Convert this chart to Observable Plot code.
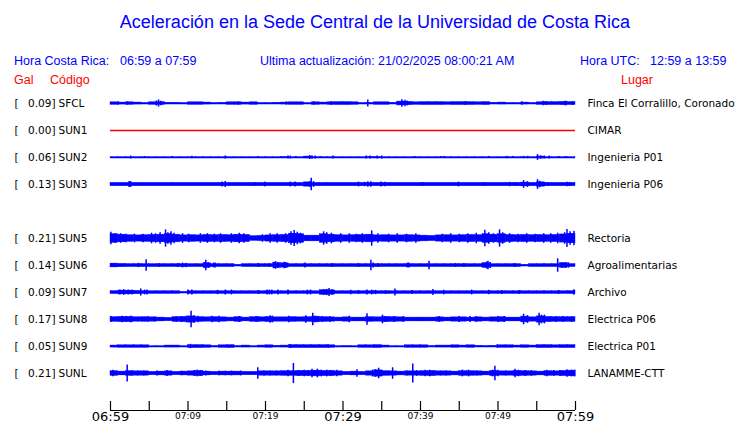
<!DOCTYPE html>
<html><head><meta charset="utf-8">
<script src="https://cdn.jsdelivr.net/npm/d3@7"></script>
<script src="https://cdn.jsdelivr.net/npm/@observablehq/plot@0.6"></script>
<style>
body{margin:0;background:#fff;}
#wrap{position:relative;width:740px;height:423px;overflow:hidden;background:#fff;}
#head{position:relative;height:88px;font-family:"Liberation Sans",Arial,sans-serif;}
#head div{position:absolute;white-space:pre;line-height:1;}
.t{left:0;width:750px;text-align:center;top:13px;font-size:18px;color:#0000ff;}
.h{font-size:12.5px;color:#0000ff;top:55px;}
.r{font-size:12.5px;color:#ff0000;top:74px;}
#chart svg{display:block;}
</style></head>
<body><div id="wrap"><div id="head"></div><div id="chart"></div></div>
<script>
// ---------- text ----------
const title = "Aceleración en la Sede Central de la Universidad de Costa Rica";
const localLabel = "Hora Costa Rica:", localRange = "06:59 a 07:59";
const updatedLabel = "Ultima actualización:", updated = "21/02/2025 08:00:21 AM";
const utcLabel = "Hora UTC:", utcRange = "12:59 a 13:59";
const colHeads = ["Gal", "Código", "Lugar"];

// ---------- stations ----------
const slotCodes = ["SFCL","SUN1","SUN2","SUN3","SUN4","SUN5","SUN6","SUN7","SUN8","SUN9","SUNL"];
const codes = ["SFCL","SUN1","SUN2","SUN3","SUN5","SUN6","SUN7","SUN8","SUN9","SUNL"];
const peakGal = [0.09,0.00,0.06,0.13,0.21,0.14,0.09,0.17,0.05,0.21];
const places = ["Finca El Corralillo, Coronado","CIMAR","Ingenieria P01","Ingenieria P06","Rectoria","Agroalimentarias","Archivo","Electrica P06","Electrica P01","LANAMME-CTT"];

// ---------- time axis (minutes after 06:59) ----------
const tickMinutes = [0,5,10,15,20,25,30,35,40,45,50,55,60];
const labelMinutes = [0,10,20,30,40,50,60];
const labelTexts = ["06:59","07:09","07:19","07:29","07:39","07:49","07:59"];
const labelMajor = [true,false,false,true,false,false,true];

// ---------- per-minute amplitude envelopes (Gal) ----------
const envSFCL = [0.025,0.02,0.025,0.02,0.01,0.025,0.03,0.015,0.015,0.01,
 0.025,0.025,0.02,0.01,0.015,0.025,0.025,0.02,0.025,0.01,
 0.01,0.015,0.02,0.025,0.025,0.01,0.025,0.02,0.025,0.03,
 0.03,0.025,0.01,0.015,0.025,0.025,0.015,0.04,0.035,0.025,
 0.03,0.03,0.03,0.025,0.03,0.03,0.03,0.025,0.03,0.015,
 0.02,0.01,0.01,0.02,0.01,0.025,0.03,0.03,0.035,0.03];
const envSUN1 = [];
const envSUN2 = [0.005,0.005,0.005,0.005,0.005,0.005,0.005,0.005,0.005,0.005,
 0.005,0.005,0.005,0.005,0.005,0.005,0.005,0.005,0.005,0.005,
 0.005,0.005,0.012,0.005,0.005,0.02,0.005,0.005,0.005,0.005,
 0.005,0.005,0.005,0.012,0.012,0.005,0.005,0.005,0.005,0.005,
 0.005,0.005,0.005,0.005,0.005,0.005,0.005,0.005,0.005,0.005,
 0.005,0.005,0.005,0.005,0.005,0.02,0.005,0.005,0.005,0.005];
const envSUN3 = [0.035,0.035,0.035,0.035,0.035,0.035,0.035,0.035,0.035,0.035,
 0.035,0.035,0.035,0.035,0.035,0.035,0.035,0.035,0.035,0.035,
 0.035,0.035,0.035,0.035,0.035,0.045,0.035,0.035,0.035,0.035,
 0.035,0.035,0.035,0.035,0.035,0.035,0.035,0.035,0.035,0.035,
 0.035,0.035,0.035,0.035,0.035,0.035,0.035,0.035,0.035,0.035,
 0.035,0.035,0.035,0.04,0.035,0.045,0.035,0.035,0.035,0.035];
const envSUN5 = [0.09,0.08,0.07,0.065,0.07,0.075,0.08,0.095,0.08,0.065,
 0.07,0.065,0.075,0.07,0.075,0.07,0.08,0.075,0.05,0.055,
 0.065,0.07,0.075,0.1,0.09,0.06,0.06,0.09,0.08,0.07,
 0.065,0.07,0.075,0.08,0.065,0.07,0.065,0.065,0.07,0.065,
 0.06,0.055,0.065,0.07,0.065,0.07,0.075,0.07,0.09,0.08,
 0.09,0.075,0.07,0.075,0.07,0.075,0.07,0.075,0.085,0.1];
const envSUN6 = [0.04,0.035,0.03,0.03,0.03,0.03,0.03,0.03,0.03,0.03,
 0.03,0.03,0.045,0.03,0.03,0.03,0.015,0.03,0.03,0.03,
 0.03,0.05,0.045,0.03,0.03,0.03,0.03,0.03,0.03,0.03,
 0.03,0.03,0.03,0.03,0.03,0.03,0.03,0.03,0.03,0.03,
 0.03,0.03,0.03,0.03,0.03,0.03,0.03,0.03,0.05,0.03,
 0.03,0.03,0.03,0.015,0.03,0.03,0.03,0.03,0.05,0.03];
const envSUN7 = [0.03,0.04,0.04,0.035,0.027,0.027,0.027,0.027,0.027,0.012,
 0.027,0.027,0.027,0.027,0.027,0.027,0.027,0.027,0.027,0.027,
 0.027,0.027,0.027,0.027,0.027,0.027,0.027,0.05,0.045,0.027,
 0.027,0.027,0.027,0.027,0.027,0.027,0.027,0.027,0.027,0.027,
 0.027,0.027,0.027,0.027,0.027,0.027,0.027,0.027,0.027,0.027,
 0.027,0.027,0.027,0.027,0.027,0.027,0.027,0.027,0.027,0.03];
const envSUN8 = [0.05,0.055,0.055,0.045,0.05,0.045,0.04,0.035,0.05,0.055,
 0.065,0.05,0.045,0.05,0.045,0.04,0.05,0.04,0.05,0.045,
 0.055,0.045,0.045,0.05,0.045,0.05,0.06,0.05,0.045,0.04,
 0.045,0.04,0.04,0.05,0.045,0.055,0.05,0.045,0.04,0.04,
 0.04,0.04,0.045,0.04,0.045,0.045,0.04,0.045,0.04,0.045,
 0.05,0.04,0.04,0.06,0.045,0.065,0.055,0.05,0.05,0.05];
const envSUN9 = [0.02,0.025,0.025,0.025,0.025,0.005,0.005,0.02,0.02,0.005,
 0.03,0.03,0.025,0.01,0.025,0.03,0.01,0.02,0.005,0.02,
 0.025,0.015,0.02,0.03,0.03,0.03,0.03,0.03,0.025,0.005,
 0.01,0.005,0.025,0.025,0.03,0.02,0.005,0.005,0.025,0.025,
 0.025,0.01,0.02,0.02,0.025,0.02,0.025,0.015,0.01,0.015,
 0.025,0.025,0.02,0.025,0.02,0.03,0.03,0.025,0.03,0.03];
const envSUNL = [0.05,0.04,0.05,0.045,0.045,0.035,0.04,0.045,0.035,0.04,
 0.045,0.055,0.04,0.035,0.04,0.04,0.04,0.035,0.035,0.045,
 0.045,0.045,0.05,0.05,0.055,0.055,0.06,0.055,0.055,0.045,
 0.035,0.04,0.035,0.045,0.065,0.05,0.045,0.04,0.045,0.045,
 0.05,0.055,0.045,0.045,0.04,0.05,0.05,0.045,0.04,0.055,
 0.045,0.045,0.055,0.05,0.045,0.04,0.05,0.045,0.055,0.06];

// ---------- individual peaks [minute, Gal] ----------
const spkSFCL = [[1.0,0.035],[2.2,0.035],[5.9,0.05],[6.2,0.075],[6.5,0.045],[16.5,0.035],[22.7,0.035],[26.2,0.035],[28.5,0.04],[33.2,0.075],[37.6,0.08],[38.0,0.07],[38.3,0.05],[45.8,0.04],[53.1,0.035],[55.8,0.045],[56.2,0.04],[58.7,0.05],[59.6,0.04]];
const spkSUN1 = [];
const spkSUN2 = [[2.6,0.03],[4.4,0.02],[8.0,0.02],[10.5,0.025],[14.8,0.03],[19.0,0.02],[22.9,0.03],[23.2,0.03],[23.9,0.02],[25.7,0.04],[26.0,0.035],[26.4,0.03],[27.2,0.02],[28.7,0.03],[33.0,0.03],[33.5,0.03],[34.4,0.03],[35.0,0.03],[39.3,0.02],[42.6,0.02],[43.1,0.02],[48.8,0.02],[51.2,0.025],[51.9,0.02],[53.3,0.025],[53.8,0.025],[55.1,0.06],[55.5,0.035],[56.0,0.03],[56.6,0.03],[57.8,0.02],[58.7,0.02]];
const spkSUN3 = [[2.4,0.06],[2.6,0.06],[14.4,0.05],[14.8,0.065],[18.6,0.04],[19.9,0.05],[23.2,0.05],[23.8,0.05],[25.7,0.06],[25.9,0.13],[26.2,0.06],[32.0,0.05],[32.8,0.045],[33.2,0.055],[33.6,0.055],[34.9,0.05],[35.4,0.045],[40.3,0.04],[44.9,0.05],[48.3,0.04],[51.5,0.045],[52.3,0.04],[53.3,0.08],[53.8,0.06],[55.1,0.1],[55.4,0.07],[56.0,0.045],[56.4,0.04],[58.9,0.045],[59.3,0.04]];
const spkSUN5 = [[0.05,0.13],[0.6,0.1],[1.3,0.1],[2.0,0.09],[3.1,0.09],[4.2,0.09],[5.3,0.11],[5.8,0.1],[6.4,0.12],[7.1,0.18],[7.4,0.12],[7.8,0.14],[8.2,0.11],[9.3,0.1],[10.1,0.09],[11.6,0.1],[12.5,0.1],[13.4,0.09],[14.2,0.1],[15.6,0.1],[16.6,0.11],[17.2,0.1],[19.6,0.08],[20.6,0.1],[21.5,0.1],[22.6,0.1],[23.3,0.14],[23.7,0.165],[24.1,0.13],[24.5,0.11],[27.5,0.14],[27.9,0.12],[28.5,0.11],[29.7,0.1],[30.8,0.1],[31.7,0.09],[32.5,0.1],[33.7,0.16],[34.5,0.1],[35.9,0.09],[37.0,0.1],[38.2,0.09],[39.4,0.1],[42.8,0.09],[43.9,0.1],[45.0,0.09],[46.1,0.1],[47.2,0.11],[48.3,0.17],[48.8,0.12],[49.4,0.1],[50.2,0.18],[50.6,0.12],[51.5,0.1],[52.6,0.09],[53.7,0.1],[54.8,0.09],[55.9,0.1],[56.8,0.1],[57.7,0.11],[58.6,0.12],[58.9,0.19],[59.3,0.14],[59.8,0.15]];
const spkSUN6 = [[3.6,0.045],[4.6,0.12],[6.3,0.04],[8.7,0.04],[9.3,0.05],[9.7,0.045],[12.1,0.06],[12.3,0.11],[12.6,0.06],[13.3,0.05],[13.5,0.05],[19.1,0.04],[20.5,0.04],[21.1,0.07],[21.3,0.08],[21.6,0.06],[22.4,0.07],[22.6,0.06],[25.1,0.05],[28.6,0.04],[32.0,0.04],[33.6,0.11],[33.9,0.05],[34.5,0.04],[38.3,0.05],[38.5,0.05],[41.1,0.09],[44.5,0.04],[45.6,0.04],[48.5,0.07],[48.7,0.09],[49.0,0.06],[52.2,0.04],[57.7,0.14],[58.3,0.06],[58.7,0.06],[59.1,0.055]];
const spkSUN7 = [[1.2,0.05],[1.7,0.06],[2.3,0.05],[2.8,0.045],[3.9,0.075],[4.4,0.05],[4.7,0.05],[10.0,0.05],[10.5,0.05],[13.8,0.045],[14.8,0.05],[15.6,0.05],[19.1,0.04],[20.2,0.05],[20.5,0.05],[20.8,0.05],[21.6,0.05],[22.9,0.05],[25.4,0.05],[25.8,0.05],[27.5,0.06],[27.9,0.065],[28.2,0.085],[28.6,0.055],[31.0,0.045],[32.0,0.04],[33.1,0.05],[33.7,0.05],[34.2,0.045],[35.5,0.04],[36.7,0.075],[38.9,0.04],[41.6,0.06],[43.0,0.045],[46.6,0.05],[48.8,0.045],[50.5,0.04],[52.7,0.04],[57.8,0.04],[59.8,0.055]];
const spkSUN8 = [[0.1,0.06],[1.5,0.07],[2.0,0.065],[2.6,0.07],[3.5,0.05],[4.8,0.05],[5.7,0.05],[8.5,0.06],[9.2,0.06],[9.8,0.07],[10.4,0.17],[10.8,0.08],[11.3,0.07],[13.1,0.07],[14.0,0.07],[16.6,0.06],[18.8,0.06],[19.1,0.06],[20.6,0.08],[20.9,0.07],[23.0,0.07],[25.2,0.08],[26.1,0.13],[26.4,0.07],[27.3,0.06],[28.3,0.06],[30.8,0.07],[33.1,0.12],[35.1,0.09],[35.4,0.06],[36.6,0.06],[37.8,0.06],[42.4,0.06],[45.0,0.06],[46.4,0.06],[47.2,0.06],[50.0,0.06],[50.8,0.06],[53.3,0.11],[53.8,0.08],[55.3,0.13],[55.6,0.09],[56.0,0.09],[57.5,0.06],[58.4,0.06],[59.5,0.06]];
const spkSUN9 = [[10.3,0.045],[23.2,0.04],[28.1,0.035],[49.9,0.035]];
const spkSUNL = [[0.3,0.07],[2.15,0.175],[2.7,0.05],[3.5,0.05],[4.3,0.05],[6.0,0.05],[7.3,0.06],[9.2,0.045],[10.8,0.06],[11.2,0.07],[11.6,0.06],[12.3,0.05],[14.0,0.045],[14.8,0.045],[15.6,0.05],[16.8,0.05],[19.0,0.12],[19.8,0.05],[20.6,0.05],[21.4,0.05],[22.9,0.07],[23.6,0.21],[24.3,0.06],[25.0,0.07],[25.5,0.06],[26.0,0.09],[26.7,0.09],[27.2,0.07],[27.9,0.07],[28.4,0.065],[29.2,0.07],[31.8,0.08],[33.8,0.07],[34.2,0.08],[34.6,0.11],[35.0,0.07],[36.4,0.12],[38.3,0.05],[39.0,0.2],[39.5,0.06],[40.6,0.07],[41.2,0.07],[42.6,0.05],[43.3,0.05],[45.4,0.07],[46.2,0.07],[47.3,0.05],[49.3,0.07],[49.6,0.15],[50.0,0.07],[51.0,0.05],[52.2,0.09],[52.6,0.07],[53.5,0.06],[54.3,0.06],[56.3,0.07],[57.2,0.06],[58.0,0.06],[58.9,0.08],[59.5,0.07],[59.9,0.07]];

const env = {SFCL:envSFCL,SUN1:envSUN1,SUN2:envSUN2,SUN3:envSUN3,SUN5:envSUN5,SUN6:envSUN6,SUN7:envSUN7,SUN8:envSUN8,SUN9:envSUN9,SUNL:envSUNL};
const spk = {SFCL:spkSFCL,SUN1:spkSUN1,SUN2:spkSUN2,SUN3:spkSUN3,SUN5:spkSUN5,SUN6:spkSUN6,SUN7:spkSUN7,SUN8:spkSUN8,SUN9:spkSUN9,SUNL:spkSUNL};

// ---------- header ----------
const head = document.getElementById("head");
function addText(cls, left, txt){ const d=document.createElement("div"); d.className=cls; if(left!==null) d.style.left=left+"px"; d.textContent=txt; head.appendChild(d); return d; }
addText("t", null, title);
addText("h", 14, localLabel); addText("h", 120, localRange);
addText("h", 260, updatedLabel + " " + updated);
addText("h", 580, utcLabel); addText("h", 650, utcRange);
addText("r", 14, colHeads[0]); addText("r", 50, colHeads[1]); addText("r", 621, colHeads[2]);

// ---------- chart ----------
const rowOf = c => slotCodes.indexOf(c);
const rowPx = 27;
const galToRow = 48 / rowPx;
const axisRow = 307 / rowPx;
const tickLen = 9 / rowPx;
const stations = codes.map((c,i)=>({c, r: rowOf(c), g: peakGal[i], place: places[i]}));
const envData = codes.flatMap(c => env[c].map((a,i)=>({c, r: rowOf(c), m: i, a})));
const spkData = codes.flatMap(c => spk[c].map(([m,a])=>({c, r: rowOf(c), m, a})));
const labels = labelMinutes.map((m,i)=>({m, t: labelTexts[i], major: labelMajor[i]}));
const blue = "#0000ff";

const chart = Plot.plot({
  width: 740, height: 335, margin: 0,
  x: {domain: [0, 60], range: [110, 575], axis: null},
  y: {domain: [0, axisRow], range: [15, 322], axis: null},
  style: {fontFamily: "'DejaVu Sans', sans-serif", fontSize: "10.5px", background: "white", color: "#000", overflow: "visible"},
  marks: [
    Plot.ruleY(stations, {y: "r", x1: 0, x2: 60, stroke: d => d.g > 0 ? blue : "#ff0000", strokeWidth: 1.3}),
    Plot.rect(envData, {x1: "m", x2: d => d.m + 1, y1: d => d.r - d.a * galToRow, y2: d => d.r + d.a * galToRow, fill: blue, stroke: blue, strokeWidth: 0.4}),
    Plot.ruleX(spkData, {x: "m", y1: d => d.r - d.a * galToRow, y2: d => d.r + d.a * galToRow, stroke: blue, strokeWidth: 1.5}),
    Plot.text(stations, {y: "r", frameAnchor: "left", dx: 14, text: () => "[", textAnchor: "start", fill: "#000"}),
    Plot.text(stations, {y: "r", frameAnchor: "left", dx: 55, text: d => d.g.toFixed(2) + "]", textAnchor: "end", fill: "#000"}),
    Plot.text(stations, {y: "r", frameAnchor: "left", dx: 58, text: "c", textAnchor: "start", fill: "#000"}),
    Plot.text(stations, {y: "r", x: 60, dx: 12, text: "place", textAnchor: "start", fill: "#000"}),
    Plot.ruleY([axisRow], {x1: 0, x2: 60, stroke: "#000", strokeWidth: 1.2}),
    Plot.ruleX(tickMinutes, {x: d => d, y1: axisRow - tickLen, y2: axisRow, stroke: "#000", strokeWidth: 1.2}),
    Plot.text(labels.filter(d => d.major), {x: "m", y: axisRow, dy: 6, text: "t", fontSize: 13, fill: "#000"}),
    Plot.text(labels.filter(d => !d.major), {x: "m", y: axisRow, dy: 6, text: "t", fontSize: 9, fill: "#000"})
  ]
});
document.getElementById("chart").appendChild(chart);
</script>
</body></html>
